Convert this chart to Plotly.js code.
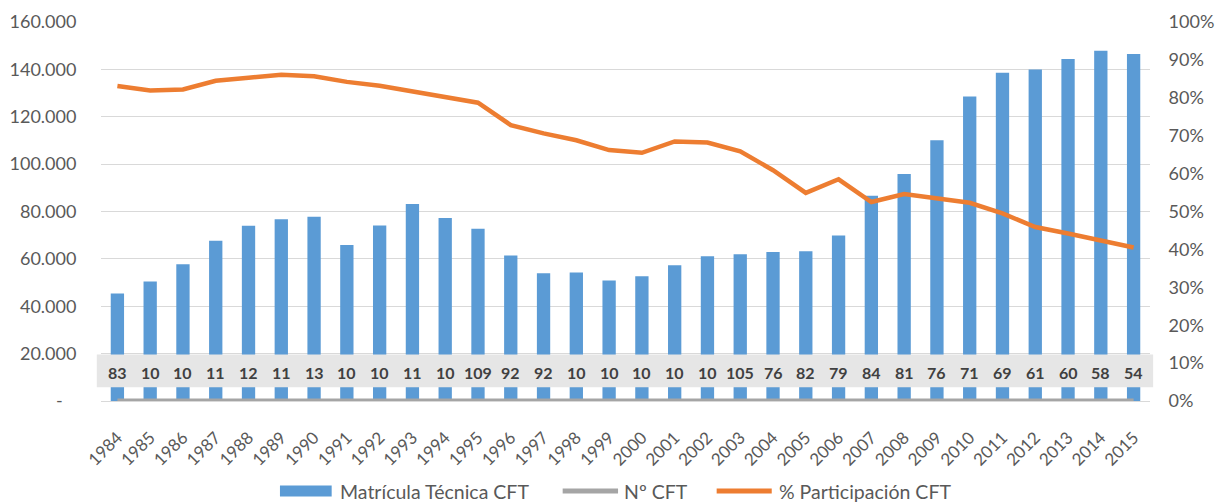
<!DOCTYPE html>
<html>
<head>
<meta charset="utf-8">
<script src="https://cdn.plot.ly/plotly-3.0.1.min.js"></script>
<style>
  html, body { margin: 0; padding: 0; background: #ffffff; }
  #chart { width: 1215px; height: 503px; }
</style>
</head>
<body>
<div id="chart"></div>
<script>
// ---- Data ----
const years = ["1984","1985","1986","1987","1988","1989","1990","1991","1992","1993","1994","1995","1996","1997","1998","1999","2000","2001","2002","2003","2004","2005","2006","2007","2008","2009","2010","2011","2012","2013","2014","2015"];

const matriculaTecnicaCFT = [45350, 50430, 57750, 67600, 73950, 76750, 77750, 65900, 74100, 83200, 77300, 72700, 61400, 53950, 54250, 50850, 52700, 57300, 61100, 62000, 62850, 63250, 69850, 86600, 95800, 110100, 128600, 138600, 140000, 144400, 147900, 146500];

const numeroCFT = [83, 102, 103, 112, 121, 115, 131, 104, 101, 117, 106, 109, 92, 92, 103, 101, 105, 102, 102, 105, 76, 82, 79, 84, 81, 76, 71, 69, 61, 60, 58, 54];

// data labels as they appear (clipped) in the source chart
const numeroCFTLabels = ["83","10","10","11","12","11","13","10","10","11","10","109","92","92","10","10","10","10","10","105","76","82","79","84","81","76","71","69","61","60","58","54"];

const participacionCFT = [0.831, 0.819, 0.822, 0.845, 0.853, 0.861, 0.857, 0.842, 0.832, 0.817, 0.799, 0.787, 0.728, 0.706, 0.688, 0.662, 0.655, 0.685, 0.682, 0.659, 0.609, 0.549, 0.585, 0.525, 0.546, 0.534, 0.523, 0.495, 0.459, 0.442, 0.424, 0.405];

const seriesNames = ["Matrícula Técnica CFT", "Nº CFT", "% Participación CFT"];

const leftTickVals = [0, 20000, 40000, 60000, 80000, 100000, 120000, 140000, 160000];
const leftTickText = ["-\u00a0\u00a0\u00a0", "20.000", "40.000", "60.000", "80.000", "100.000", "120.000", "140.000", "160.000"];

// ---- Styling ----
const FONT = "Lato, 'Open Sans', sans-serif";
const TICK_COLOR = "#595959";
const COLORS = ["#5b9bd5", "#a5a5a5", "#ed7d31"];

const traces = [
  {
    type: "bar",
    name: seriesNames[0],
    x: years,
    y: matriculaTecnicaCFT,
    marker: { color: COLORS[0] },
    yaxis: "y"
  },
  {
    type: "scatter",
    mode: "lines",
    name: seriesNames[1],
    x: years,
    y: numeroCFT,
    line: { color: COLORS[1], width: 4.5 },
    yaxis: "y"
  },
  {
    type: "scatter",
    mode: "lines",
    name: seriesNames[2],
    x: years,
    y: participacionCFT,
    line: { color: COLORS[2], width: 4.5 },
    yaxis: "y2"
  }
];

// data labels for Nº CFT, drawn on a grey band (x = category index)
const annotations = years.map((yr, i) => ({
  x: i,
  xref: "x",
  y: 0.074,
  yref: "paper",
  text: "<b>" + numeroCFTLabels[i] + "</b>",
  showarrow: false,
  font: { family: FONT, size: 16, color: "#404040" },
  xanchor: "center",
  yanchor: "middle"
}));

// legend drawn like the source (wide swatches), positions in paper units
const legendY = -0.2375;
const legendSwatch = [
  { kind: "rect", x0: 0.1706, x1: 0.2199 },
  { kind: "line", x0: 0.4401, x1: 0.4929 },
  { kind: "line", x0: 0.5869, x1: 0.6394 }
];
const legendTextX = [0.2259, 0.4964, 0.6441];

const shapes = [
  {
    type: "rect",
    xref: "paper", yref: "paper",
    x0: -0.004, x1: 1.003, y0: 0.036, y1: 0.123,
    fillcolor: "#e6e6e6",
    line: { width: 0 },
    layer: "above"
  }
];
legendSwatch.forEach((s, i) => {
  if (s.kind === "rect") {
    shapes.push({
      type: "rect", xref: "paper", yref: "paper",
      x0: s.x0, x1: s.x1, y0: legendY - 0.0145, y1: legendY + 0.0145,
      fillcolor: COLORS[i], line: { width: 0 }, layer: "above"
    });
  } else {
    shapes.push({
      type: "line", xref: "paper", yref: "paper",
      x0: s.x0, x1: s.x1, y0: legendY, y1: legendY,
      line: { color: COLORS[i], width: 5 }, layer: "above"
    });
  }
  annotations.push({
    x: legendTextX[i], xref: "paper",
    y: legendY, yref: "paper",
    text: seriesNames[i],
    showarrow: false,
    xanchor: "left", yanchor: "middle",
    font: { family: FONT, size: 19.5, color: TICK_COLOR }
  });
});

const layout = {
  width: 1215,
  height: 503,
  margin: { l: 101, r: 65, t: 22, b: 102, autoexpand: false },
  paper_bgcolor: "#ffffff",
  plot_bgcolor: "#ffffff",
  font: { family: FONT, size: 18, color: TICK_COLOR },
  bargap: 0.594,
  showlegend: false,
  xaxis: {
    type: "category",
    range: [-0.5, years.length - 0.5],
    autorange: false,
    automargin: false,
    tickangle: -45,
    tickfont: { family: FONT, size: 17, color: TICK_COLOR },
    showgrid: false,
    showline: false,
    zeroline: false,
    ticks: "outside",
    ticklen: 19,
    tickcolor: "rgba(0,0,0,0)",
    fixedrange: true
  },
  yaxis: {
    range: [0, 160000],
    autorange: false,
    automargin: false,
    tickvals: leftTickVals,
    ticktext: leftTickText,
    tickfont: { family: FONT, size: 18, color: TICK_COLOR },
    showgrid: true,
    gridcolor: "#d9d9d9",
    gridwidth: 1,
    zeroline: true,
    zerolinecolor: "#d9d9d9",
    zerolinewidth: 1,
    showline: false,
    ticks: "outside",
    ticklen: 20,
    tickcolor: "rgba(0,0,0,0)",
    fixedrange: true
  },
  yaxis2: {
    overlaying: "y",
    side: "right",
    range: [0, 1],
    autorange: false,
    automargin: false,
    dtick: 0.1,
    tick0: 0,
    tickformat: ".0%",
    tickfont: { family: FONT, size: 18, color: TICK_COLOR },
    showgrid: false,
    zeroline: false,
    showline: false,
    ticks: "outside",
    ticklen: 14,
    tickcolor: "rgba(0,0,0,0)",
    fixedrange: true
  },
  shapes: shapes,
  annotations: annotations
};

Plotly.newPlot("chart", traces, layout, { displayModeBar: false, staticPlot: true });
</script>
</body>
</html>
